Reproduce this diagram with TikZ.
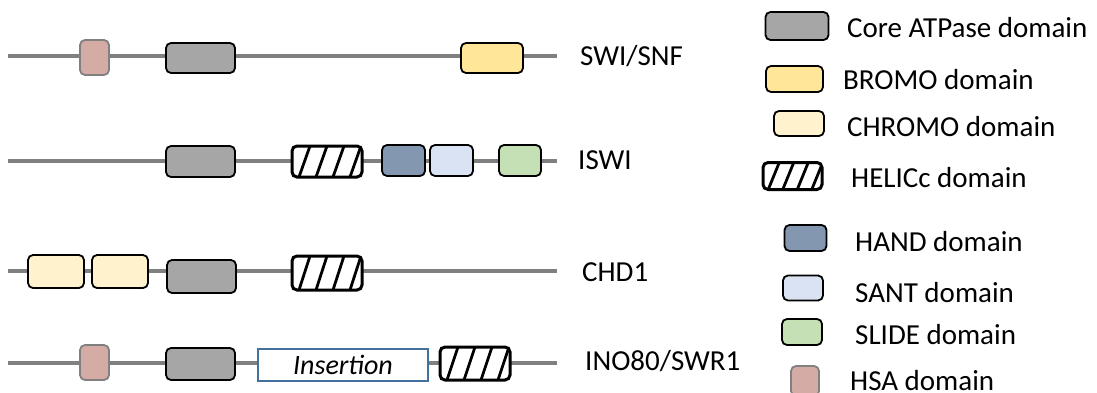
\documentclass[tikz,border=0pt]{standalone}
\usepackage{fontspec}
\setmainfont{Carlito}
\begin{document}
\begin{tikzpicture}[x=1pt,y=-1pt,
  backbone/.style={draw=black!50, line width=4pt},
  dombox/.style={draw=black, line width=1.8pt, rounded corners=5pt, inner sep=0pt},
  coredom/.style={dombox, fill=black!35},
  bromodom/.style={dombox, fill={rgb,255:red,255;green,230;blue,153}},
  chromodom/.style={dombox, fill={rgb,255:red,255;green,242;blue,204}},
  handdom/.style={dombox, fill={rgb,255:red,132;green,151;blue,176}},
  santdom/.style={dombox, fill={rgb,255:red,218;green,227;blue,243}},
  slidedom/.style={dombox, fill={rgb,255:red,197;green,224;blue,180}},
  hsadom/.style={dombox, draw=black!50, fill={rgb,255:red,213;green,171;blue,165}},
  helicdom/.style={dombox, line width=3pt, fill=white,
    path picture={\foreach \k in {-1.5,-0.5,0.5,1.5}
      \draw[line width=2.8pt] ([xshift=\k*#1-2.5pt]path picture bounding box.south)
        -- ([xshift=\k*#1+8.5pt]path picture bounding box.north);}},
  helicdom/.default=17pt,
  insdom/.style={draw={rgb,255:red,65;green,113;blue,156}, line width=1.5pt, fill=white, inner sep=0pt,
    font=\fontsize{28}{30}\selectfont\itshape},
  lbl/.style={anchor=west, inner sep=0pt, font=\fontsize{29}{34}\selectfont}
]
\useasboundingbox (0,0) rectangle (1097,393);

% ---- SWI/SNF ----
\coordinate (a0) at (8,56); \coordinate (a1) at (557,56);
\draw[backbone] (a0) -- (a1);
\node[hsadom, minimum width=29pt, minimum height=35pt] (aHSA) at (94.5,57.5) {};
\node[coredom, minimum width=69pt, minimum height=30pt] (aCore) at (200.5,58) {};
\node[bromodom, minimum width=62pt, minimum height=30pt] (aBromo) at (492,58) {};
\node[lbl] (aName) at (580,56) {SWI/SNF};

% ---- ISWI ----
\coordinate (b0) at (8,161); \coordinate (b1) at (557,161);
\draw[backbone] (b0) -- (b1);
\node[coredom, minimum width=69pt, minimum height=31pt] (bCore) at (200.5,161.5) {};
\node[helicdom, minimum width=70pt, minimum height=31pt] (bHel) at (327,161.5) {};
\node[handdom, minimum width=43pt, minimum height=31pt] (bHand) at (403.5,160.5) {};
\node[santdom, minimum width=43pt, minimum height=31pt] (bSant) at (451.5,160.5) {};
\node[slidedom, minimum width=42pt, minimum height=31pt] (bSlide) at (520,160.5) {};
\node[lbl] (bName) at (578,160) {ISWI};

% ---- CHD1 ----
\coordinate (c0) at (8,271); \coordinate (c1) at (557,271);
\draw[backbone] (c0) -- (c1);
\node[chromodom, minimum width=56pt, minimum height=33pt] (cChr1) at (56,271.5) {};
\node[chromodom, minimum width=56pt, minimum height=33pt] (cChr2) at (120,271.5) {};
\node[coredom, minimum width=69pt, minimum height=33pt] (cCore) at (201.5,276.5) {};
\node[helicdom, minimum width=70pt, minimum height=34pt] (cHel) at (327,273) {};
\node[lbl] (cName) at (582,272) {CHD1};

% ---- INO80/SWR1 ----
\coordinate (d0) at (8,363); \coordinate (d1) at (557,363);
\draw[backbone] (d0) -- (d1);
\node[hsadom, minimum width=29pt, minimum height=35pt] (dHSA) at (94.5,362.5) {};
\node[coredom, minimum width=69pt, minimum height=32pt] (dCore) at (200.5,364) {};
\node[insdom, minimum width=170pt, minimum height=32pt] (dIns) at (343,365) {Insertion};
\node[helicdom, minimum width=70pt, minimum height=33pt] (dHel) at (475,363.5) {};
\node[lbl] (dName) at (585,361) {INO80/SWR1};

% ---- legend ----
\node[coredom, minimum width=63pt, minimum height=28pt] (kCore) at (797,26) {};
\node[lbl] (tCore) at (847,28) {Core ATPase domain};
\node[bromodom, minimum width=57pt, minimum height=26pt] (kBromo) at (794.5,79) {};
\node[lbl] (tBromo) at (843,80) {BROMO domain};
\node[chromodom, minimum width=50pt, minimum height=25pt] (kChromo) at (799,123.5) {};
\node[lbl] (tChromo) at (847,127) {CHROMO domain};
\node[helicdom=14.5pt, minimum width=59pt, minimum height=27pt] (kHel) at (792.5,176) {};
\node[lbl] (tHel) at (851,178) {HELICc domain};
\node[handdom, minimum width=42pt, minimum height=26pt] (kHand) at (805.5,238) {};
\node[lbl] (tHand) at (855,242) {HAND domain};
\node[santdom, minimum width=40pt, minimum height=25pt] (kSant) at (803,288) {};
\node[lbl] (tSant) at (855,293) {SANT domain};
\node[slidedom, minimum width=40pt, minimum height=26pt] (kSlide) at (802,332) {};
\node[lbl] (tSlide) at (855,335) {SLIDE domain};
\node[hsadom, minimum width=28pt, minimum height=30pt] (kHSA) at (805,381) {};
\node[lbl] (tHSA) at (850,381) {HSA domain};
\end{tikzpicture}
\end{document}
